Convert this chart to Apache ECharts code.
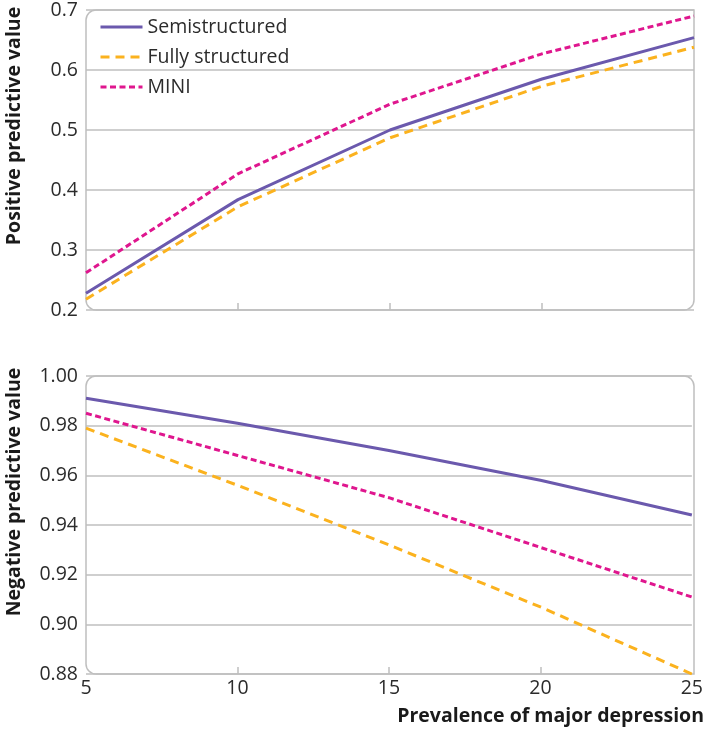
<!DOCTYPE html>
<html>
<head>
<meta charset="utf-8">
<script src="https://cdn.jsdelivr.net/npm/echarts@6/dist/echarts.min.js"></script>
<style>html,body{margin:0;padding:0;background:#fff;}#c{width:706px;height:736px;}</style>
</head>
<body>
<div id="c"></div>
<script>
var prevalence = [5, 10, 15, 20, 25];
var seriesNames = ['Semistructured', 'Fully structured', 'MINI'];
var ppvSemi = [0.228, 0.384, 0.500, 0.585, 0.654];
var ppvFully = [0.218, 0.372, 0.487, 0.573, 0.638];
var ppvMini = [0.262, 0.427, 0.543, 0.627, 0.690];
var npvSemi = [0.991, 0.981, 0.970, 0.958, 0.944];
var npvFully = [0.979, 0.956, 0.932, 0.907, 0.880];
var npvMini = [0.985, 0.968, 0.951, 0.931, 0.911];
var ppvTicks = ['0.2', '0.3', '0.4', '0.5', '0.6', '0.7'];
var npvTicks = ['0.88', '0.90', '0.92', '0.94', '0.96', '0.98', '1.00'];
var innerTicks = [10, 15, 20];

function pairs(ys) { return prevalence.map(function (x, i) { return [x, ys[i]]; }); }

var colors = ['#6b59ad', '#fbb21e', '#df168e'];
var dashes = ['solid', [9, 6], [6, 3.5]];
var FONT = '"Open Sans", "Noto Sans", sans-serif';
var gridColor = '#bfbfbf';

function mkSeries(name, idx, data, xi, yi) {
  return {
    name: name, type: 'line', xAxisIndex: xi, yAxisIndex: yi,
    data: pairs(data), symbol: 'none', smooth: false,
    lineStyle: { color: colors[idx], width: 3, type: dashes[idx] },
    itemStyle: { color: colors[idx] }
  };
}

var chart = echarts.init(document.getElementById('c'), null, { renderer: 'canvas' });
var axisLabelStyle = { color: '#2b2b2b', fontSize: 19.5, fontFamily: FONT };
var titleFont = 'bold 19.5px "Open Sans", "Noto Sans", sans-serif';
chart.setOption({
  animation: false,
  backgroundColor: '#fff',
  grid: [
    { left: 86, right: 12, top: 10, height: 300 },
    { left: 86, right: 12, top: 376, height: 298 }
  ],
  legend: {
    data: seriesNames,
    orient: 'vertical', left: 99, top: 17, itemGap: 10, padding: 0,
    itemWidth: 42, itemHeight: 20,
    itemStyle: { opacity: 0, borderWidth: 0 },
    lineStyle: { width: 3 },
    textStyle: { color: '#2b2b2b', fontSize: 19.5, lineHeight: 20, fontFamily: FONT }
  },
  xAxis: [
    { type: 'value', gridIndex: 0, min: 5, max: 25, interval: 5,
      axisLine: { show: false }, splitLine: { show: false },
      axisTick: { show: true, inside: true, length: 7, customValues: innerTicks, lineStyle: { color: gridColor, width: 1.5 } },
      axisLabel: { show: false } },
    { type: 'value', gridIndex: 1, min: 5, max: 25, interval: 5,
      axisLine: { show: false }, splitLine: { show: false },
      axisTick: { show: true, inside: true, length: 7, customValues: innerTicks, lineStyle: { color: gridColor, width: 1.5 } },
      axisLabel: Object.assign({ margin: 4 }, axisLabelStyle) }
  ],
  yAxis: [
    { type: 'value', gridIndex: 0, min: 0.2, max: 0.7, interval: 0.1,
      axisLine: { show: false }, axisTick: { show: false },
      splitLine: { show: true, lineStyle: { color: gridColor, width: 1.5 } },
      axisLabel: Object.assign({ margin: 8, formatter: function (v) { return ppvTicks[Math.round((v - 0.2) / 0.1)]; } }, axisLabelStyle) },
    { type: 'value', gridIndex: 1, min: 0.88, max: 1.0, interval: 0.02,
      axisLine: { show: false }, axisTick: { show: false },
      splitLine: { show: true, lineStyle: { color: gridColor, width: 1.5 } },
      axisLabel: Object.assign({ margin: 8, formatter: function (v) { return npvTicks[Math.round((v - 0.88) / 0.02)]; } }, axisLabelStyle) }
  ],
  graphic: [
    { type: 'rect', silent: true, z: 1, shape: { x: 86, y: 10, width: 608, height: 300, r: [10, 0, 10, 10] },
      style: { fill: 'none', stroke: gridColor, lineWidth: 1.5 } },
    { type: 'rect', silent: true, z: 1, shape: { x: 86, y: 376, width: 608, height: 298, r: [10, 10, 0, 10] },
      style: { fill: 'none', stroke: gridColor, lineWidth: 1.5 } },
    { type: 'text', x: 14, y: 126, rotation: Math.PI / 2,
      style: { text: 'Positive predictive value', fill: '#1a1a1a', font: titleFont, textAlign: 'center', textVerticalAlign: 'middle' } },
    { type: 'text', x: 14, y: 492, rotation: Math.PI / 2,
      style: { text: 'Negative predictive value', fill: '#1a1a1a', font: titleFont, textAlign: 'center', textVerticalAlign: 'middle' } },
    { type: 'text', right: 2, top: 706,
      style: { text: 'Prevalence of major depression', fill: '#1a1a1a', font: titleFont } }
  ],
  series: [
    mkSeries(seriesNames[0], 0, ppvSemi, 0, 0),
    mkSeries(seriesNames[1], 1, ppvFully, 0, 0),
    mkSeries(seriesNames[2], 2, ppvMini, 0, 0),
    mkSeries(seriesNames[0], 0, npvSemi, 1, 1),
    mkSeries(seriesNames[1], 1, npvFully, 1, 1),
    mkSeries(seriesNames[2], 2, npvMini, 1, 1)
  ]
});
</script>
</body>
</html>
